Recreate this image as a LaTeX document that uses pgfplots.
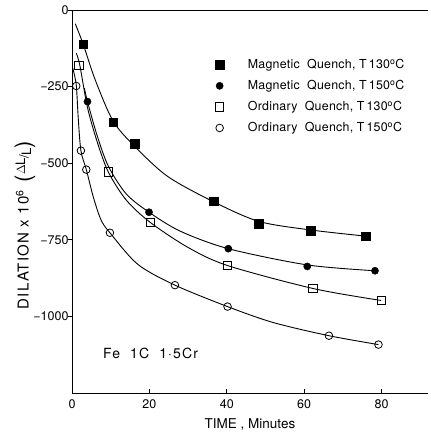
\documentclass[border=0pt]{standalone}
\usepackage{pgfplots}
\pgfplotsset{compat=1.18}
\usepackage{fontspec}
\setmainfont{TeX Gyre Heros}
\newfontfamily\lsfont[LetterSpace=8]{TeX Gyre Heros}
\newfontfamily\lsfontb[LetterSpace=2]{TeX Gyre Heros}
\begin{document}
\begin{tikzpicture}
\begin{axis}[
  width=356pt, height=383pt, scale only axis,
  xmin=0, xmax=92, ymin=-1250, ymax=0,
  axis x line=box, axis y line*=left,
  xtick pos=bottom, ytick pos=left,
  xtick={0,20,40,60,80},
  ytick={-1000,-750,-500,-250,0},
  yticklabels={−1000,−750,−500,−250,0},
  tick align=inside, major tick length=4pt,
  ytick style={xshift=-4pt},
  tick style={black, line width=0.6pt},
  axis line style={black, line width=0.8pt},
  tick label style={font=\fontsize{12.5}{14}\selectfont},
  xticklabel style={yshift=-3pt},
  /pgf/number format/assume math mode=true,
  xlabel={TIME , Minutes},
  xlabel style={at={(rel axis cs:0.5,0)}, anchor=center, yshift=-32pt, font=\fontsize{13.5}{15}\selectfont},
  ylabel={{\lsfont\fontsize{15}{17}\selectfont DILATION x 10\textsuperscript{6}}\hspace{8pt}\raisebox{-2pt}{\fontsize{22}{22}\selectfont(}\raisebox{3.5pt}{$\Delta$L}\kern-0.5pt/\kern-0.5pt\raisebox{-2.5pt}{L}\raisebox{-2pt}{\fontsize{22}{22}\selectfont)}},
  ylabel style={at={(rel axis cs:-0.132,0.439)}, anchor=center, font=\fontsize{13}{15}\selectfont},
  legend style={at={(0.394,0.882)}, anchor=north west, draw=none, fill=none,
    font=\lsfontb\fontsize{12.4}{14.5}\selectfont, row sep=6.3pt, cells={anchor=west},
    /tikz/every odd column/.append style={column sep=22pt}},
  clip=false,
]
% fitted curves
\addplot[black, line width=0.9pt, smooth, forget plot] coordinates {
 (0.85,-45) (2.9,-112) (6,-228) (10.6,-362) (16.2,-445) (24.7,-543) (36.6,-626) (48.3,-690) (61.7,-718) (75.9,-738)};
\addplot[black, line width=0.9pt, smooth, forget plot] coordinates {
 (3.2,-255) (4,-299) (6.5,-410) (9.4,-510) (14,-600) (19.9,-660) (28,-722) (40.4,-779) (60.8,-832) (78.3,-851)};
\addplot[black, line width=0.9pt, smooth, forget plot] coordinates {
 (1.1,-141) (2,-179) (4,-318) (6.5,-430) (9.4,-529) (14,-620) (20.2,-693) (30,-775) (40.2,-834) (62.3,-909) (79.9,-948)};
\addplot[black, line width=0.9pt, smooth, forget plot] coordinates {
 (0.2,-190) (1.1,-245) (1.6,-350) (2.3,-459) (3.7,-521) (5.5,-610) (7.5,-685) (9.8,-727) (17,-830) (26.6,-898) (40.2,-968) (52,-1020) (66.4,-1063) (79.2,-1092)};
% data points
\addplot[only marks, mark=square*, mark size=4.2pt, mark options={fill=black, draw=black}] coordinates {
 (2.9,-112) (10.6,-367) (16.2,-437) (36.6,-625) (48.3,-698) (61.7,-720) (75.9,-739)};
\addlegendentry{Magnetic\ \ Quench, T\,130\textsuperscript{o}C}
\addplot[only marks, mark=*, mark size=3.6pt, mark options={fill=black, draw=black}] coordinates {
 (4.0,-299) (19.9,-660) (40.4,-779) (60.8,-837) (78.3,-851)};
\addlegendentry{Magnetic\ \ Quench, T\,150\textsuperscript{o}C}
\addplot[only marks, mark=square, mark size=4.2pt, mark options={fill=white, draw=black, line width=0.8pt}] coordinates {
 (1.8,-180) (9.4,-529) (20.2,-693) (40.2,-834) (62.3,-909) (79.9,-948)};
\addlegendentry{Ordinary\ \ Quench, T\,130\textsuperscript{o}C}
\addplot[only marks, mark=o, mark size=3.8pt, mark options={fill=white, draw=black, line width=0.8pt}] coordinates {
 (1.1,-248) (2.3,-459) (3.7,-521) (9.8,-727) (26.6,-898) (40.2,-968) (66.4,-1063) (79.2,-1092)};
\addlegendentry{Ordinary\ \ Quench, T\,150\textsuperscript{o}C}
\node[font=\lsfont\fontsize{14}{16}\selectfont] at (axis cs:20.3,-1122) {Fe\ \ 1C\ \ 1·5Cr};
\path (rel axis cs:0,0) ++(-72pt,-42pt);
\path (rel axis cs:1,1) ++(2pt,10pt);
\end{axis}
\end{tikzpicture}
\end{document}
